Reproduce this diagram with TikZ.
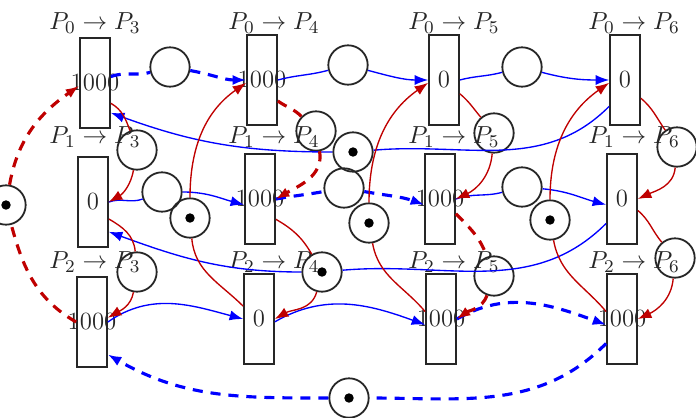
\documentclass[tikz,border=0pt]{standalone}
\usetikzlibrary{arrows.meta}
\begin{document}
\begin{tikzpicture}[x=0.4444pt,y=0.4444pt,font=\fontsize{11}{13}\selectfont,
  pl/.style={draw=black!85,line width=0.8pt,minimum width=13.3pt,minimum height=40pt,inner sep=0pt,text=black!85},
  tr/.style={draw=black!85,line width=0.8pt,circle,minimum size=17.5pt,inner sep=0pt},
  tok/.style={tr,path picture={\fill[black] (path picture bounding box.center) circle (2.1pt);}},
  lab/.style={text=black!85,inner sep=0pt},
  bl/.style={draw=blue,line width=0.6pt},
  bld/.style={draw=blue,line width=1.4pt,dash pattern=on 4.5pt off 3.5pt},
  rd/.style={draw=red!75!black,line width=0.6pt},
  rdd/.style={draw=red!75!black,line width=1.4pt,dash pattern=on 4.5pt off 3.5pt},
  arr/.style={-{Latex[length=6pt,width=4.5pt]}}
]
\useasboundingbox (0,0) rectangle (696,-417);
% places
\node[pl] (p03) at (95,-83)  {\makebox[0pt]{1000}};
\node[pl] (p04) at (262,-80) {\makebox[0pt]{1000}};
\node[pl] (p05) at (444,-80) {\makebox[0pt]{0}};
\node[pl] (p06) at (625,-80) {\makebox[0pt]{0}};
\node[pl] (p13) at (93,-202) {\makebox[0pt]{0}};
\node[pl] (p14) at (260,-199) {\makebox[0pt]{1000}};
\node[pl] (p15) at (440,-199) {\makebox[0pt]{1000}};
\node[pl] (p16) at (622,-199) {\makebox[0pt]{0}};
\node[pl] (p23) at (92,-322) {\makebox[0pt]{1000}};
\node[pl] (p24) at (259,-319) {\makebox[0pt]{0}};
\node[pl] (p25) at (441,-319) {\makebox[0pt]{1000}};
\node[pl] (p26) at (622,-319) {\makebox[0pt]{1000}};
% labels
\node[lab] (l03) at (95,-23)  {$P_0\rightarrow P_3$};
\node[lab] (l04) at (274,-23) {$P_0\rightarrow P_4$};
\node[lab] (l05) at (454,-23) {$P_0\rightarrow P_5$};
\node[lab] (l06) at (634,-23) {$P_0\rightarrow P_6$};
\node[lab] (l13) at (95,-137)  {$P_1\rightarrow P_3$};
\node[lab] (l14) at (274,-137) {$P_1\rightarrow P_4$};
\node[lab] (l15) at (454,-137) {$P_1\rightarrow P_5$};
\node[lab] (l16) at (634,-137) {$P_1\rightarrow P_6$};
\node[lab] (l23) at (95,-262)  {$P_2\rightarrow P_3$};
\node[lab] (l24) at (274,-262) {$P_2\rightarrow P_4$};
\node[lab] (l25) at (454,-262) {$P_2\rightarrow P_5$};
\node[lab] (l26) at (634,-262) {$P_2\rightarrow P_6$};
% transitions
\node[tr] (t1) at (170,-67) {};
\node[tr] (t2) at (348,-65) {};
\node[tr] (t3) at (522,-67) {};
\node[tr] (tA) at (137,-150) {};
\node[tr] (tB) at (316,-131) {};
\node[tr] (tC) at (494,-133) {};
\node[tr] (tD) at (677,-147) {};
\node[tr] (tE) at (162,-192) {};
\node[tr] (tF) at (344,-188) {};
\node[tr] (tG) at (522,-187) {};
\node[tr] (tH) at (137,-272) {};
\node[tok] (tI) at (322,-272) {};
\node[tr] (tJ) at (494,-276) {};
\node[tr] (tK) at (675,-258) {};
\node[tok] (tL) at (353,-152) {};
\node[tok] (tM) at (190,-218) {};
\node[tok] (tN) at (369,-223) {};
\node[tok] (tO) at (550,-220) {};
\node[tok] (tP) at (6,-205) {};
\node[tok] (tQ) at (349,-398) {};
% row 0 (blue)
\draw[bld] (p03.22) to[out=20,in=195] (t1);
\draw[bld,arr] (t1) to[out=-10,in=180] (p04.west);
\draw[bl] (p04.east) to[out=15,in=195] (t2);
\draw[bl,arr] (t2) to[out=-15,in=180] (p05.west);
\draw[bl] (p05.east) to[out=15,in=195] (t3);
\draw[bl,arr] (t3) to[out=-15,in=180] (p06.west);
% row 1 (blue)
\draw[bl] (p13.east) to[out=20,in=200] (tE);
\draw[bl,arr] (tE) to[out=0,in=165] (p14.200);
\draw[bld] (p14.east) to[out=10,in=190] (tF);
\draw[bld,arr] (tF) to[out=-10,in=160] (p15.200);
\draw[bl] (p15.east) to[out=20,in=195] (tG);
\draw[bl,arr] (tG) to[out=-5,in=165] (p16.200);
% row 2 (blue)
\draw[bl,arr] (p23.east) to[out=35,in=165] (p24.west);
\draw[bl,arr] (p24.-10) to[out=30,in=160] (p25.200);
\draw[bld,arr] (p25.east) to[out=30,in=160] (p26.200);
% long blue
\draw[bl] (p06.239) to[out=225,in=5] (tL);
\draw[bl,arr] (tL) to[out=180,in=-20] (p03.-62);
\draw[bl] (p16.237) to[out=225,in=5] (tI);
\draw[bl,arr] (tI) to[out=180,in=-20] (p13.-62);
\draw[bld] (p26.237) to[out=225,in=0] (tQ);
\draw[bld,arr] (tQ) to[out=180,in=-30] (p23.-64);
% red vertical
\draw[rd] (p03.-52) to[out=-30,in=110] (tA);
\draw[rd,arr] (tA) to[out=-100,in=30] (p13.east);
\draw[rd] (p13.-47) to[out=-30,in=95] (tH);
\draw[rd,arr] (tH) to[out=-100,in=30] (p23.15);
\draw[rdd] (p04.-53) to[out=-35,in=135] (tB);
\draw[rdd,arr] (tB) to[out=-80,in=30] (p14.east);
\draw[rd] (p14.-52) to[out=-30,in=120] (tI);
\draw[rd,arr] (tI) to[out=-105,in=30] (p24.east);
\draw[rd] (p05.-41) to[out=-40,in=130] (tC);
\draw[rd,arr] (tC) to[out=-95,in=25] (p15.east);
\draw[rdd] (p15.-43) to[out=-45,in=110] (tJ);
\draw[rdd,arr] (tJ) to[out=-110,in=35] (p25.east);
\draw[rd] (p06.-49) to[out=-40,in=125] (tD);
\draw[rd,arr] (tD) to[out=-95,in=25] (p16.east);
\draw[rd] (p16.-36) to[out=-40,in=130] (tK);
\draw[rd,arr] (tK) to[out=-95,in=25] (p26.east);
% red upward
\draw[rd] (p24.141) to[out=135,in=-85] (tM);
\draw[rd,arr] (tM) to[out=90,in=215] (p04.190);
\draw[rd] (p25.155) to[out=130,in=-80] (tN);
\draw[rd,arr] (tN) to[out=90,in=215] (p05.190);
\draw[rd] (p26.155) to[out=130,in=-80] (tO);
\draw[rd,arr] (tO) to[out=90,in=215] (p06.190);
\draw[rdd] (p23.west) to[out=150,in=-75] (tP);
\draw[rdd,arr] (tP) to[out=80,in=215] (p03.190);
\end{tikzpicture}
\end{document}
